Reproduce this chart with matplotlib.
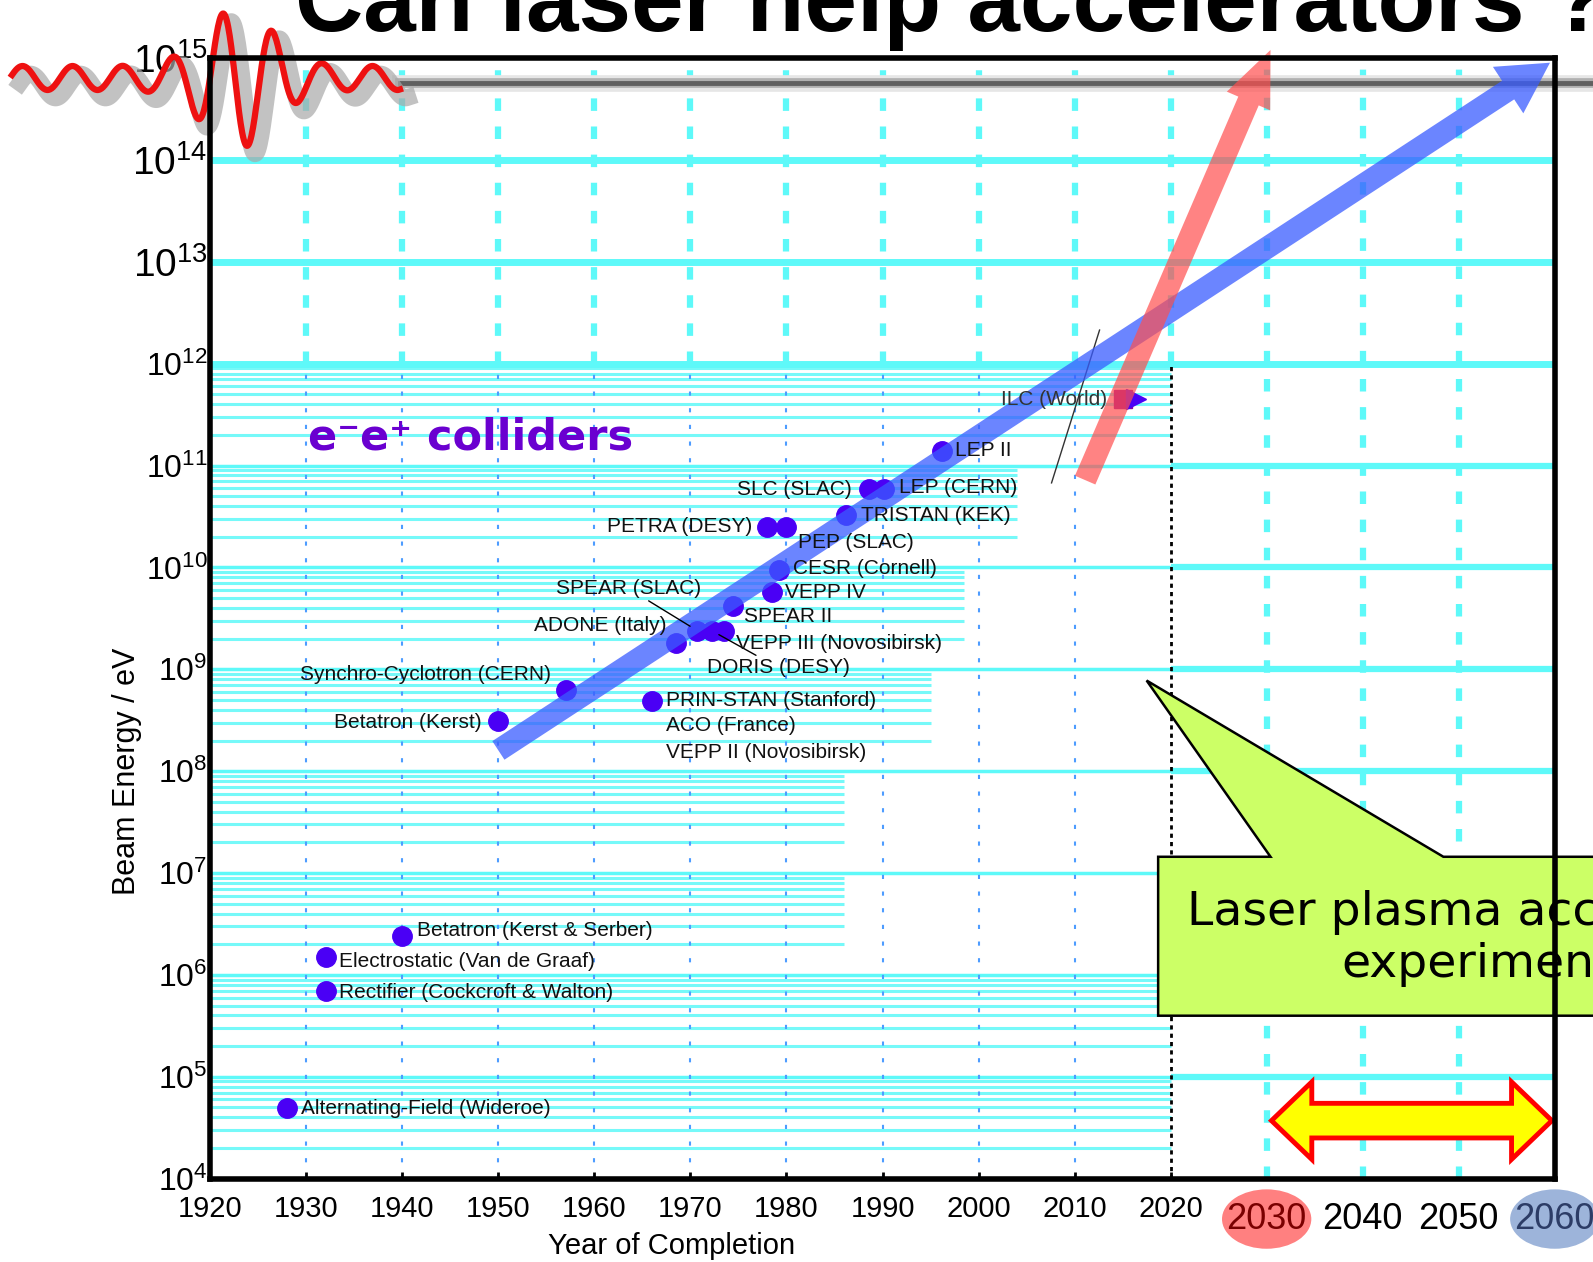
import numpy as np
import matplotlib
matplotlib.use('Agg')
import matplotlib.pyplot as plt
from matplotlib.patches import Polygon, Ellipse
from matplotlib.lines import Line2D
import matplotlib.transforms as mtransforms
from matplotlib import font_manager

plt.rcParams['font.family'] = ['Liberation Sans', 'DejaVu Sans']
plt.rcParams['mathtext.fontset'] = 'custom'
plt.rcParams['mathtext.rm'] = 'Liberation Sans'

# accelerators (year, beam energy in eV)
names = ['Alternating-Field (Wideroe)', 'Rectifier (Cockcroft & Walton)',
         'Electrostatic (Van de Graaf)', 'Betatron (Kerst & Serber)',
         'Betatron (Kerst)', 'Synchro-Cyclotron (CERN)', 'PRIN-STAN (Stanford)',
         'ADONE (Italy)', 'SPEAR (SLAC)', 'DORIS (DESY)', 'VEPP III (Novosibirsk)',
         'SPEAR II', 'VEPP IV', 'CESR (Cornell)', 'PETRA (DESY)', 'PEP (SLAC)',
         'TRISTAN (KEK)', 'SLC (SLAC)', 'LEP (CERN)', 'LEP II']
years = [1928, 1932, 1932, 1940, 1950, 1957, 1966, 1968.5, 1970.7, 1972.2,
         1973.5, 1974.4, 1978.5, 1979.2, 1978, 1979.9, 1986.2, 1988.6, 1990.2, 1996.2]
energy = [4.9e4, 7.0e5, 1.5e6, 2.4e6, 3.1e8, 6.2e8, 4.9e8, 1.8e9, 2.4e9, 2.4e9,
          2.4e9, 4.2e9, 5.7e9, 9.4e9, 2.5e10, 2.5e10, 3.3e10, 5.9e10, 5.9e10, 1.4e11]
ilc_name = 'ILC (World)'
ilc_year = 2015
ilc_energy = 4.5e11

extra_names = ['ACO (France)', 'VEPP II (Novosibirsk)']

old_years = [1920, 1930, 1940, 1950, 1960, 1970, 1980, 1990, 2000, 2010, 2020]
new_years = [2030, 2040, 2050, 2060]
decades = list(range(4, 16))

# trend arrows: (year, energy) start -> end
blue_trend = [(1950, 1.6e8), (2059.5, 9e14)]
red_trend = [(2011.1, 7.2e10), (2030.4, 1.2e15)]

# label offsets in pixels (dx, dy, ha)
offs = [(14, 0, 'left'), (13, -2, 'left'), (13, -4, 'left'), (15, 6, 'left'),
        (-17, -1, 'right'), (-15, 16, 'right'), (14, 0, 'left'), (-10, 18, 'right'),
        (4, 42, 'right'), (-5, -37, 'left'), (12, -13, 'left'), (11, -11, 'left'),
        (13, 0, 'left'), (14, 2, 'left'), (-15, 0, 'right'), (12, -16, 'left'),
        (15, -1, 'left'), (-17, -1, 'right'), (15, 1, 'left'), (13, 0, 'left')]

cyan = '#5ef9f9'
dot_col = '#4a00f5'

# narrow font for the old plot labels if it is there
names_avail = {f.name for f in font_manager.fontManager.ttflist}
lab_fam = ['Liberation Sans Narrow'] if 'Liberation Sans Narrow' in names_avail else ['Liberation Sans']
lab_size = 17.5 if lab_fam[0] == 'Liberation Sans Narrow' else 15

fig = plt.figure(figsize=(15.93, 12.62), dpi=100)
ax = fig.add_axes([0.132, 0.066, 0.844, 0.888])
ax.set_yscale('log')
ax.set_xlim(1920, 2060)
ax.set_ylim(1e4, 1e15)

# horizontal grid
minor_end = {4: 2020, 5: 2020, 6: 1986, 7: 1986, 8: 1995, 9: 1998.5, 10: 2004, 11: 2020}
for n, xe in minor_end.items():
    for m in range(2, 10):
        ax.hlines(m * 10.0**n, 1920, xe, color=cyan, lw=2.2, alpha=0.85, zorder=1)
for n in range(5, 15):
    if n >= 12:
        ax.hlines(10.0**n, 1920, 2060, color=cyan, lw=5, zorder=1)
    else:
        ax.hlines(10.0**n, 1920, 2020, color=cyan, lw=2.5, zorder=1)
        ax.hlines(10.0**n, 2020, 2060, color=cyan, lw=4.5, zorder=1)

# vertical grid
for yr in old_years[1:-1]:
    ax.vlines(yr, 1e4, 1e12, color='#4d9cff', lw=1.5, ls=(0, (2, 6)), zorder=1)
    ax.vlines(yr, 1e12, 1e15, color=cyan, lw=4.5, ls=(0, (2, 2.5)), zorder=1)
ax.vlines(2020, 1e4, 1e12, color='black', lw=2, ls=(0, (1.5, 1.5)), zorder=2)
ax.vlines(2020, 1e12, 1e15, color=cyan, lw=4.5, ls=(0, (2, 2.5)), zorder=1)
for yr in new_years[:-1]:
    ax.vlines(yr, 1e4, 1e15, color=cyan, lw=4.5, ls=(0, (2, 2.5)), zorder=1)

# slide header bar
for lw, c in [(12, '#e6e6e6'), (7, '#b0b0b0'), (3.5, '#606060')]:
    ax.add_line(Line2D([400 / 1593, 1.0], [1 - 83 / 1262, 1 - 83 / 1262],
                       transform=fig.transFigure, color=c, lw=lw,
                       clip_on=False, zorder=1.5))

# logo (decorative wave)
lx = np.linspace(12, 400, 500)
env = 12 + 58 * np.exp(-((lx - 238) / 48) ** 2)
ly = 78 + env * np.sin(2 * np.pi * (lx - 185) / 50)
ax.add_line(Line2D((lx + 8) / 1593, 1 - (ly + 8) / 1262, transform=fig.transFigure,
                   color='#a8a8a8', lw=12, alpha=0.7, clip_on=False, zorder=1.6))
ax.add_line(Line2D(lx / 1593, 1 - ly / 1262, transform=fig.transFigure,
                   color='#ee1111', lw=4.5, clip_on=False, zorder=1.7))

# data
ax.plot(years, energy, 'o', color=dot_col, ms=14, mec=dot_col, zorder=3)
for i, nm in enumerate(names):
    dx, dy, ha = offs[i]
    kw = {}
    if nm in ('SPEAR (SLAC)', 'DORIS (DESY)'):
        kw['arrowprops'] = dict(arrowstyle='-', color='black', lw=1, shrinkA=0, shrinkB=6)
    ax.annotate(nm, (years[i], energy[i]), xytext=(dx, dy), textcoords='offset pixels',
                ha=ha, va='center', fontsize=lab_size, family=lab_fam, color='#111111',
                zorder=6, **kw)
ip = names.index('PRIN-STAN (Stanford)')
for nm, dy in zip(extra_names, [-25, -52]):
    ax.annotate(nm, (years[ip], energy[ip]), xytext=(14, dy), textcoords='offset pixels',
                ha='left', va='center', fontsize=lab_size, family=lab_fam,
                color='#111111', zorder=6)
ax.plot([ilc_year], [ilc_energy], 's', color='#8a0099', ms=13, zorder=3)
ax.plot([ilc_year + 1.4], [ilc_energy], '>', color=dot_col, ms=14, zorder=3)
ax.annotate(ilc_name, (ilc_year, ilc_energy), xytext=(-15, 0), textcoords='offset pixels',
            ha='right', va='center', fontsize=lab_size, family=lab_fam, color='#333333',
            zorder=6)

# stray line
ax.plot([2007.6, 2012.6], [10**10.83, 10**12.33], color='#333333', lw=1, zorder=2)

# trend arrows
ax.annotate('', xy=blue_trend[1], xytext=blue_trend[0],
            arrowprops=dict(arrowstyle='simple,head_length=1.8,head_width=2.0,tail_width=0.8',
                            mutation_scale=20, fc='#3a5cff', ec='none', alpha=0.75,
                            shrinkA=0, shrinkB=0), annotation_clip=False, zorder=4)
ax.annotate('', xy=red_trend[1], xytext=red_trend[0],
            arrowprops=dict(arrowstyle='simple,head_length=2.0,head_width=1.7,tail_width=0.8',
                            mutation_scale=20, fc='#ff4f4f', ec='none', alpha=0.7,
                            shrinkA=0, shrinkB=0), annotation_clip=False, zorder=4)

# e-e+ colliders
ax.text(1930.2, 10**11.28, 'e\u207be\u207a colliders', color='#6a00d0', fontsize=31,
        fontweight='bold', family=['DejaVu Sans'], va='center', ha='left', zorder=6)

# callout
top, bot = 10**7.16, 10**5.60
call = [(2018.7, top), (2030.4, top), (2017.5, 10**8.89), (2048.4, top), (2080, top),
        (2080, bot), (2018.7, bot)]
ax.add_patch(Polygon(call, closed=True, fc='#ccff66', ec='black', lw=1.8,
                     clip_on=False, zorder=7))
ax.text(2021.7, 10**6.49, 'Laser plasma acceleration', fontsize=34, family=['DejaVu Sans'],
        ha='left', va='baseline', zorder=8, clip_on=False)
ax.text(2037.8, 10**5.975, 'experiments', fontsize=34, family=['DejaVu Sans'],
        ha='left', va='baseline', zorder=8, clip_on=False)

# yellow double arrow
c = 4.57
x0, x1, x2, x3 = 2030.5, 2034.7, 2055.5, 2059.7
darr = [(x0, c), (x1, c + 0.38), (x1, c + 0.17), (x2, c + 0.17), (x2, c + 0.38), (x3, c),
        (x2, c - 0.38), (x2, c - 0.17), (x1, c - 0.17), (x1, c - 0.38)]
ax.add_patch(Polygon([(a, 10**b) for a, b in darr], closed=True, fc='#ffff00',
                     ec='#ff0000', lw=3.5, zorder=7, clip_on=False))

# axes styling
for s in ax.spines.values():
    s.set_linewidth(4)
    s.set_zorder(9)
ax.yaxis.set_minor_locator(matplotlib.ticker.NullLocator())
ax.set_yticks([10.0**k for k in decades])
ax.set_yticklabels([r'$\mathregular{10^{%d}}$' % k for k in decades])
for k, lab in zip(decades, ax.get_yticklabels()):
    lab.set_fontsize(28 if k >= 13 else 23)
ax.tick_params(axis='y', length=0, pad=2)
ax.set_xticks(old_years)
ax.set_xticklabels([str(y) for y in old_years], fontsize=21)
ax.tick_params(axis='x', length=5, width=2, direction='in', pad=12)

trans = mtransforms.blended_transform_factory(ax.transData, ax.transAxes)
ell_cols = {2030: '#ff8080', 2060: '#9db4da'}
txt_cols = {2030: '#7a0000', 2060: '#2c3c66', 2040: 'black', 2050: 'black'}
for yr in new_years:
    if yr in ell_cols:
        ax.add_patch(Ellipse((yr, -0.036), 9.3, 0.053, transform=trans,
                             fc=ell_cols[yr], ec='none', clip_on=False, zorder=1))
    ax.text(yr, -0.036, str(yr), transform=trans, ha='center', va='center',
            fontsize=26, color=txt_cols[yr], clip_on=False, zorder=2)

ax.text(1968, -0.06, 'Year of Completion', transform=trans, ha='center', va='center',
        fontsize=21)
ax.text(-0.062, 1e8, 'Beam Energy / eV', transform=mtransforms.blended_transform_factory(
    ax.transAxes, ax.transData), rotation=90, ha='center', va='center', fontsize=22)

fig.text(0.185, 1 - 31 / 1262, 'Can laser help accelerators ?', fontsize=68,
         fontweight='bold', ha='left', va='baseline')

fig.savefig('out.png', dpi=100)
